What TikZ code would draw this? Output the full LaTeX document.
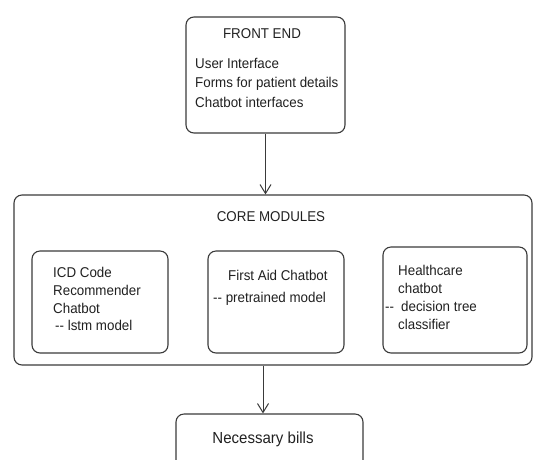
\documentclass[tikz,border=0pt]{standalone}
\usepackage{fontspec}
\setmainfont[FakeStretch=0.94]{Liberation Sans}
\usetikzlibrary{arrows.meta}
\definecolor{linec}{HTML}{3A3A3A}
\definecolor{textc}{HTML}{202020}
\begin{document}
\begin{tikzpicture}[x=1pt,y=-1pt,
  box/.style={draw=linec, line width=1.1pt, rounded corners=8pt, inner sep=0pt},
  txt/.style={font=\fontsize{14.2}{16}\selectfont, text=textc, inner sep=0pt, anchor=base west},
  arr/.style={draw=linec, line width=1pt, -{Straight Barb[length=9pt,width=11pt,line width=1pt]}}]
\useasboundingbox (0,0) rectangle (535,459);
% boxes
\node[box, minimum width=159pt, minimum height=116pt] (fe) at (265.5,75) {};
\node[box, minimum width=518pt, minimum height=170pt] (core) at (273,280) {};
\node[box, minimum width=136pt, minimum height=102pt] (icd) at (100,302) {};
\node[box, minimum width=136pt, minimum height=102pt] (fa) at (276,302) {};
\node[box, minimum width=144pt, minimum height=106pt] (hc) at (455,300) {};
\node[box, minimum width=187pt, minimum height=56pt] (bills) at (269.5,442) {};
% texts
\node[txt, anchor=base] (fet) at (262,38) {FRONT END};
\node[txt] (fe1) at (195,68) {User Interface};
\node[txt] (fe2) at (195,87.5) {Forms for patient details};
\node[txt] (fe3) at (195,107) {Chatbot interfaces};
\node[txt, anchor=base] (coret) at (271,221) {CORE MODULES};
\node[txt] (icd1) at (53,277) {ICD Code};
\node[txt] (icd2) at (53,295) {Recommender};
\node[txt] (icd3) at (53,313) {Chatbot};
\node[txt] (icd4) at (55,330) {-{}- lstm model};
\node[txt] (fa1) at (228,280) {First Aid Chatbot};
\node[txt] (fa2) at (213,302) {-{}- pretrained model};
\node[txt] (hc1) at (398,275) {Healthcare};
\node[txt] (hc2) at (398,293) {chatbot};
\node[txt] (hc3) at (385,311.5) {-{}-\hspace{0.5em}decision tree};
\node[txt] (hc4) at (398,329) {classifier};
\node[txt, anchor=base, font=\fontsize{16}{18}\selectfont] (billt) at (263,443.5) {Necessary bills};
% arrows
\draw[arr] (fe.south) -- (fe.south |- core.north);
\draw[arr] ([xshift=-10pt]core.south) -- ([xshift=-10pt]core.south |- bills.north);
\end{tikzpicture}
\end{document}
